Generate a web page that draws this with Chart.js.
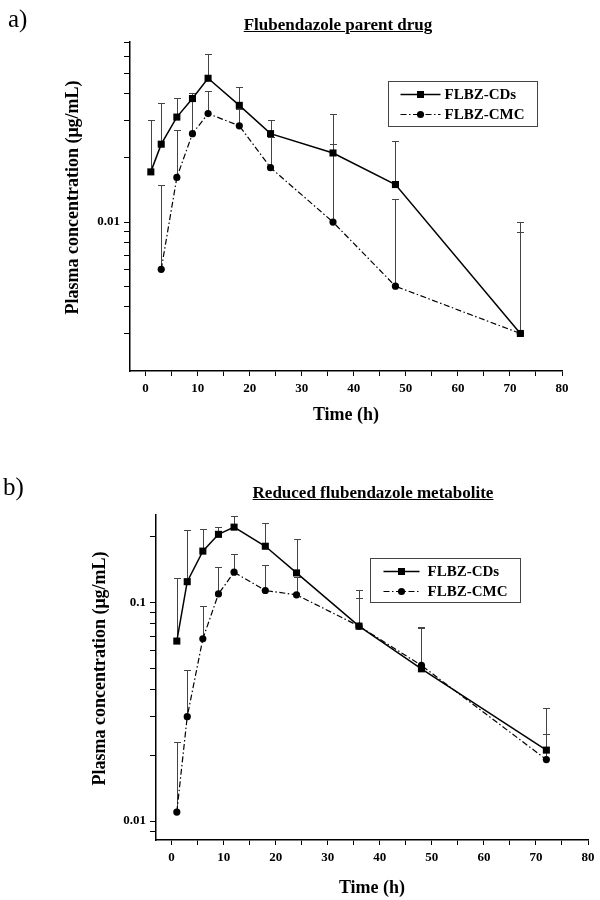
<!DOCTYPE html>
<html>
<head>
<meta charset="utf-8">
<script src="https://cdn.jsdelivr.net/npm/chart.js@4/dist/chart.umd.min.js"></script>
<style>
  body { margin: 0; background: #fff; }
  #page { position: relative; width: 600px; height: 900px; overflow: hidden; }
  canvas { position: absolute; left: 0; }
  .tag { position: absolute; font: 25px/25px "Liberation Serif", serif; color: #000; }
  .ttl { position: absolute; transform: translateX(-50%); white-space: nowrap;
         font: bold 17px/17px "Liberation Serif", serif; color: #000; text-decoration: underline; }
</style>
</head>
<body>
<div id="page">
  <canvas id="chartA" width="600" height="440" style="top:0"></canvas>
  <canvas id="chartB" width="600" height="460" style="top:440px"></canvas>
  <div class="tag" style="left:8px;top:6px">a)</div>
  <div class="ttl" style="left:338px;top:16px">Flubendazole parent drug</div>
  <div class="tag" style="left:3px;top:474px">b)</div>
  <div class="ttl" style="left:373px;top:484px">Reduced flubendazole metabolite</div>
</div>
<script>
// a) parent drug
const hoursA = [1, 3, 6, 9, 12, 18, 24, 36, 48, 72];
const cdsA = [0.0172, 0.0232, 0.0311, 0.038, 0.0473, 0.0353, 0.026, 0.0211, 0.015, 0.003];
const cdsErrA = [0.030, 0.0364, 0.0381, 0.0402, 0.0614, 0.0431, 0.030, 0.032, 0.024, 0.010];
const hoursCmcA = [3, 6, 9, 12, 18, 24, 36, 48, 72];
const cmcA = [0.006, 0.0162, 0.026, 0.0323, 0.0283, 0.018, 0.010, 0.005, 0.003];
const cmcErrA = [0.015, 0.0271, 0.037, 0.041, 0.034, 0.025, 0.0232, 0.0129, 0.009];

// b) reduced metabolite
const hoursB = [1, 3, 6, 9, 12, 18, 24, 36, 48, 72];
const cdsB = [0.0664, 0.124, 0.171, 0.204, 0.220, 0.180, 0.136, 0.0777, 0.0496, 0.0211];
const cdsErrB = [0.129, 0.213, 0.215, 0.220, 0.247, 0.230, 0.195, 0.1135, 0.0769, 0.0329];
const cmcB = [0.011, 0.030, 0.068, 0.109, 0.137, 0.113, 0.108, 0.0777, 0.0514, 0.0191];
const cmcErrB = [0.023, 0.049, 0.096, 0.144, 0.166, 0.148, 0.13, 0.1047, 0.076, 0.0251];

// ticks
const xTicks = [0, 5, 10, 15, 20, 25, 30, 35, 40, 45, 50, 55, 60, 65, 70, 75, 80];
const yTicksA = [0.003, 0.004, 0.005, 0.006, 0.007, 0.008, 0.009, 0.01, 0.02, 0.03, 0.04, 0.05, 0.06, 0.07];
const yLabelsA = [0.01];
const yTicksB = [0.009, 0.01, 0.02, 0.03, 0.04, 0.05, 0.06, 0.07, 0.08, 0.09, 0.1, 0.2];
const yLabelsB = [0.01, 0.1];

const seriesNames = ['FLBZ-CDs', 'FLBZ-CMC'];

Chart.defaults.font.family = '"Liberation Serif", "Times New Roman", serif';
Chart.defaults.color = '#000';

const toPoints = (xs, ys) => xs.map((x, i) => ({ x: x, y: ys[i] }));

// upper error bars with a small cap
const errorBars = {
    id: 'errorBars',
    beforeDatasetsDraw(chart) {
        const { ctx, scales: { x, y } } = chart;
        ctx.save();
        ctx.strokeStyle = '#444';
        ctx.lineWidth = 1;
        chart.data.datasets.forEach((ds) => {
            ds.errTop.forEach((top, i) => {
                const px = Math.round(x.getPixelForValue(ds.data[i].x)) + 0.5;
                const p0 = y.getPixelForValue(ds.data[i].y);
                const p1 = Math.round(y.getPixelForValue(top)) + 0.5;
                ctx.beginPath();
                ctx.moveTo(px, p0);
                ctx.lineTo(px, p1);
                ctx.moveTo(px - 3.5, p1);
                ctx.lineTo(px + 3.5, p1);
                ctx.stroke();
            });
        });
        ctx.restore();
    }
};

// framed legend inside the plot
const boxLegend = {
    id: 'boxLegend',
    afterDatasetsDraw(chart, args, opts) {
        const { ctx, chartArea } = chart;
        const bx = Math.round(chartArea.left + opts.dx) + 0.5;
        const by = Math.round(chartArea.top + opts.dy) + 0.5;
        ctx.save();
        ctx.strokeStyle = '#444';
        ctx.lineWidth = 1;
        ctx.strokeRect(bx, by, opts.w, opts.h);
        chart.data.datasets.forEach((ds, i) => {
            const ry = by + opts.rows[i];
            const mid = bx + (opts.x0 + opts.x1) / 2;
            ctx.strokeStyle = '#000';
            ctx.lineWidth = ds.borderWidth;
            ctx.setLineDash(ds.borderDash || []);
            ctx.beginPath();
            ctx.moveTo(bx + opts.x0, ry);
            ctx.lineTo(bx + opts.x1, ry);
            ctx.stroke();
            ctx.setLineDash([]);
            ctx.fillStyle = '#000';
            ctx.beginPath();
            if (ds.pointStyle === 'rect') {
                ctx.rect(mid - 3.5, ry - 3.5, 7, 7);
            } else {
                ctx.arc(mid, ry, ds.pointRadius, 0, Math.PI * 2);
            }
            ctx.fill();
            ctx.font = 'bold 15px "Liberation Serif", serif';
            ctx.textBaseline = 'middle';
            ctx.fillText(ds.label, bx + opts.tx, ry + 1);
        });
        ctx.restore();
    }
};

function makeChart(id, cfg) {
    const canvas = document.getElementById(id);
    return new Chart(canvas, {
        type: 'line',
        data: {
            datasets: [{
                label: seriesNames[0],
                data: toPoints(cfg.hoursCds, cfg.cds),
                errTop: cfg.cdsErr,
                borderColor: '#000',
                backgroundColor: '#000',
                borderWidth: 1.5,
                pointStyle: 'rect',
                pointRadius: 5,
                pointBorderWidth: 0
            }, {
                label: seriesNames[1],
                data: toPoints(cfg.hoursCmc, cfg.cmc),
                errTop: cfg.cmcErr,
                borderColor: '#000',
                backgroundColor: '#000',
                borderWidth: 1.2,
                borderDash: [6, 2.5, 1.5, 2.5],
                pointStyle: 'circle',
                pointRadius: 3.6,
                pointBorderWidth: 0
            }]
        },
        options: {
            responsive: false,
            animation: false,
            devicePixelRatio: 1,
            layout: { padding: cfg.padding },
            plugins: {
                legend: { display: false },
                tooltip: { enabled: false },
                boxLegend: cfg.legend
            },
            scales: {
                x: {
                    type: 'linear',
                    min: -3,
                    max: 80,
                    afterBuildTicks: (s) => { s.ticks = xTicks.map((v) => ({ value: v })); },
                    afterFit: (s) => { s.height = cfg.xHeight; },
                    ticks: {
                        autoSkip: false,
                        maxRotation: 0,
                        padding: 5,
                        font: { size: 13, weight: 'bold' },
                        callback: (v) => (v % 10 === 0 ? String(v) : '')
                    },
                    grid: { drawOnChartArea: false, tickLength: 5, color: '#000' },
                    border: { color: '#000', width: 1.5 },
                    title: {
                        display: true,
                        text: 'Time (h)',
                        font: { size: 18, weight: 'bold' },
                        padding: { top: 0, bottom: cfg.xTitlePad }
                    }
                },
                y: {
                    type: 'logarithmic',
                    min: cfg.yMin,
                    max: cfg.yMax,
                    afterBuildTicks: (s) => { s.ticks = cfg.yTicks.map((v) => ({ value: v })); },
                    afterFit: (s) => { s.width = cfg.yWidth; },
                    ticks: {
                        autoSkip: false,
                        padding: 4,
                        font: { size: 13, weight: 'bold' },
                        callback: (v) => (cfg.yLabels.includes(v) ? String(v) : '')
                    },
                    grid: { drawOnChartArea: false, tickLength: 6, color: '#000' },
                    border: { color: '#000', width: 1.5 },
                    title: {
                        display: true,
                        // leading spaces nudge the centred title a little upward
                        text: '\u00a0\u00a0\u00a0\u00a0Plasma concentration (μg/mL)',
                        font: { size: 18, weight: 'bold' },
                        padding: { top: cfg.yTitlePad, bottom: 0 }
                    }
                }
            }
        },
        plugins: [errorBars, boxLegend]
    });
}

makeChart('chartA', {
    hoursCds: hoursA, cds: cdsA, cdsErr: cdsErrA,
    hoursCmc: hoursCmcA, cmc: cmcA, cmcErr: cmcErrA,
    yMin: 0.002, yMax: 0.07, yTicks: yTicksA, yLabels: yLabelsA,
    padding: { left: 0, top: 42, right: 38, bottom: 0 },
    yWidth: 130, xHeight: 69, xTitlePad: 14, yTitlePad: 63,
    legend: { dx: 258, dy: 39, w: 149, h: 45, rows: [13, 33], x0: 12, x1: 52, tx: 56 }
});

makeChart('chartB', {
    hoursCds: hoursB, cds: cdsB, cdsErr: cdsErrB,
    hoursCmc: hoursB, cmc: cmcB, cmcErr: cmcErrB,
    yMin: 0.0082, yMax: 0.25, yTicks: yTicksB, yLabels: yLabelsB,
    padding: { left: 0, top: 75, right: 12, bottom: 0 },
    yWidth: 156, xHeight: 60, xTitlePad: 1, yTitlePad: 90,
    legend: { dx: 214, dy: 43, w: 150, h: 44, rows: [13, 33], x0: 13, x1: 49, tx: 57 }
});
</script>
</body>
</html>
